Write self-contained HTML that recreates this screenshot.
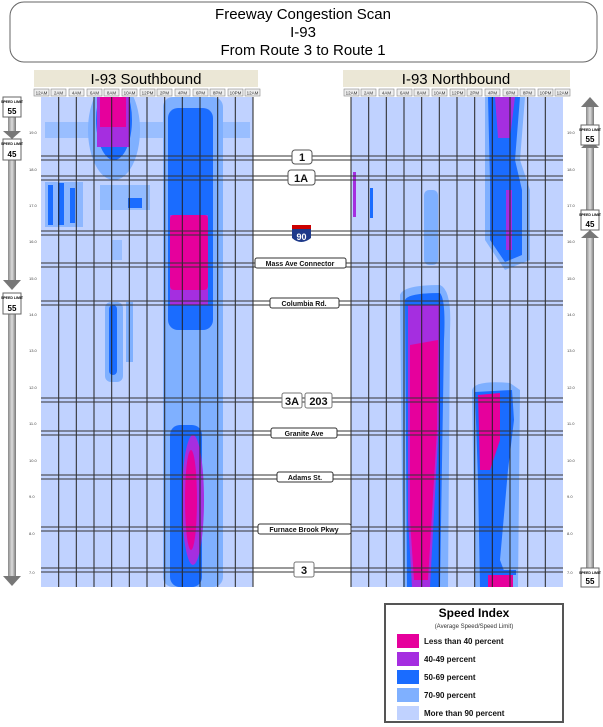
<!DOCTYPE html>
<html><head><meta charset="utf-8"><style>
body{margin:0;background:#fff;width:603px;height:727px;overflow:hidden}
svg{display:block;font-family:"Liberation Sans",sans-serif}
</style></head><body>
<svg width="603" height="727" viewBox="0 0 603 727">
<defs>
<linearGradient id="gv" x1="0" x2="1"><stop offset="0" stop-color="#888"/><stop offset="0.5" stop-color="#ddd"/><stop offset="1" stop-color="#777"/></linearGradient>
<clipPath id="cl"><rect x="41" y="97" width="212" height="490"/></clipPath>
<clipPath id="cr"><rect x="351" y="97" width="212" height="490"/></clipPath>
</defs>
<rect x="10" y="2" width="587" height="60" rx="14" fill="#fff" stroke="#666" stroke-width="1"/>
<text x="303" y="19" font-size="15" text-anchor="middle">Freeway Congestion Scan</text>
<text x="303" y="37" font-size="15" text-anchor="middle">I-93</text>
<text x="303" y="55" font-size="15" text-anchor="middle">From Route 3 to Route 1</text>

<rect x="34" y="70" width="224" height="17" fill="#ebe7d6"/>
<text x="146" y="84" font-size="15" text-anchor="middle">I-93 Southbound</text>
<rect x="343" y="70" width="227" height="17" fill="#ebe7d6"/>
<text x="456" y="84" font-size="15" text-anchor="middle">I-93 Northbound</text>

<g clip-path="url(#cl)">
<rect x="41" y="97" width="212" height="490" fill="#c0d2ff"/>
<rect x="45" y="122" width="205" height="16" fill="#7fb0ff" opacity="0.6"/>
<ellipse cx="114" cy="130" rx="26" ry="50" fill="#7fb0ff"/>
<ellipse cx="114" cy="120" rx="18" ry="40" fill="#1a6cff"/>
<rect x="97" y="97" width="33" height="50" fill="#a52ee0"/>
<rect x="100" y="97" width="26" height="30" fill="#e6009c"/>
<rect x="45" y="182" width="38" height="45" fill="#7fb0ff" opacity="0.8"/>
<rect x="48" y="185" width="5" height="40" fill="#1a6cff"/><rect x="58" y="183" width="6" height="42" fill="#1a6cff"/><rect x="70" y="188" width="5" height="35" fill="#1a6cff"/>
<rect x="100" y="185" width="50" height="25" fill="#7fb0ff" opacity="0.7"/>
<rect x="128" y="198" width="14" height="10" fill="#1a6cff"/>
<rect x="105" y="302" width="18" height="80" rx="6" fill="#7fb0ff"/>
<rect x="109" y="305" width="8" height="70" rx="4" fill="#1a6cff"/>
<rect x="126" y="302" width="7" height="60" fill="#7fb0ff"/>
<rect x="112" y="240" width="10" height="20" fill="#7fb0ff" opacity="0.6"/>
<rect x="163" y="97" width="60" height="490" rx="10" fill="#7fb0ff"/>
<rect x="168" y="108" width="45" height="222" rx="10" fill="#1a6cff"/>
<rect x="170" y="425" width="32" height="162" rx="10" fill="#1a6cff"/>
<rect x="170" y="215" width="38" height="90" fill="#a52ee0"/>
<rect x="170" y="215" width="38" height="75" rx="4" fill="#e6009c"/>
<ellipse cx="193" cy="500" rx="11" ry="65" fill="#a52ee0"/>
<ellipse cx="191" cy="500" rx="6" ry="50" fill="#e6009c"/>
</g>

<g clip-path="url(#cr)">
<rect x="351" y="97" width="212" height="490" fill="#c0d2ff"/>
<rect x="353" y="172" width="3" height="45" fill="#a52ee0"/>
<rect x="370" y="188" width="3" height="30" fill="#1a6cff"/>
<rect x="424" y="190" width="14" height="75" rx="5" fill="#7fb0ff"/>
<path d="M485 97 L525 97 L520 160 L530 190 L530 260 L505 270 L485 240 L485 180 Z" fill="#7fb0ff"/>
<path d="M488 97 L520 97 L515 160 L522 190 L522 255 L505 262 L490 240 L490 180 Z" fill="#1a6cff"/>
<path d="M495 97 L515 97 L510 138 L498 138 Z" fill="#a52ee0"/>
<rect x="506" y="190" width="6" height="60" fill="#a52ee0"/>
<path d="M400 295 Q403 285 440 285 Q452 290 450 330 L448 587 L403 587 Z" fill="#7fb0ff"/>
<path d="M405 300 Q408 293 440 293 Q446 300 444 340 L440 587 L407 587 Z" fill="#1a6cff"/>
<path d="M408 305 L440 305 L439 420 L430 587 L412 587 L408 520 Z" fill="#a52ee0"/>
<path d="M410 345 L438 340 L437 430 L428 580 L414 580 L410 520 Z" fill="#e6009c"/>
<path d="M472 390 Q475 380 510 383 L520 390 L518 587 L475 587 Z" fill="#7fb0ff"/>
<path d="M475 392 L512 390 L514 420 L508 470 L500 560 L510 587 L480 587 L478 480 Z" fill="#1a6cff"/>
<path d="M478 395 L500 393 L500 440 L490 470 L480 470 Z" fill="#e6009c"/>
<rect x="488" y="575" width="25" height="12" fill="#e6009c"/>
<rect x="484" y="570" width="32" height="5" fill="#1a6cff"/>
</g>

<g stroke="#222" stroke-width="1">
<line x1="58.7" y1="97" x2="58.7" y2="587"/><line x1="76.3" y1="97" x2="76.3" y2="587"/><line x1="94" y1="97" x2="94" y2="587"/><line x1="111.7" y1="97" x2="111.7" y2="587"/><line x1="129.3" y1="97" x2="129.3" y2="587"/><line x1="147" y1="97" x2="147" y2="587"/><line x1="164.7" y1="97" x2="164.7" y2="587"/><line x1="182.3" y1="97" x2="182.3" y2="587"/><line x1="200" y1="97" x2="200" y2="587"/><line x1="217.7" y1="97" x2="217.7" y2="587"/><line x1="235.3" y1="97" x2="235.3" y2="587"/><line x1="253" y1="97" x2="253" y2="587"/>
<line x1="351" y1="97" x2="351" y2="587"/><line x1="368.7" y1="97" x2="368.7" y2="587"/><line x1="386.3" y1="97" x2="386.3" y2="587"/><line x1="404" y1="97" x2="404" y2="587"/><line x1="421.7" y1="97" x2="421.7" y2="587"/><line x1="439.3" y1="97" x2="439.3" y2="587"/><line x1="457" y1="97" x2="457" y2="587"/><line x1="474.7" y1="97" x2="474.7" y2="587"/><line x1="492.3" y1="97" x2="492.3" y2="587"/><line x1="510" y1="97" x2="510" y2="587"/><line x1="527.7" y1="97" x2="527.7" y2="587"/><line x1="545.3" y1="97" x2="545.3" y2="587"/>
</g>
<g stroke="#333" stroke-width="1" fill="none">
<path d="M41 156H563M41 160H563M41 176H563M41 180H563M41 231H563M41 235H563M41 263H563M41 267H563M41 301H563M41 305H563M41 398H563M41 402H563M41 431H563M41 435H563M41 475H563M41 479H563M41 527H563M41 531H563M41 568H563M41 572H563"/>
</g>

<g font-size="4.5" text-anchor="middle" fill="#333">
<g stroke="#888" stroke-width="0.6" fill="#eee">
<rect x="34" y="89" width="15" height="7"/><rect x="51" y="89" width="15" height="7"/><rect x="69" y="89" width="15" height="7"/><rect x="87" y="89" width="15" height="7"/><rect x="104" y="89" width="15" height="7"/><rect x="122" y="89" width="15" height="7"/><rect x="140" y="89" width="15" height="7"/><rect x="157" y="89" width="15" height="7"/><rect x="175" y="89" width="15" height="7"/><rect x="193" y="89" width="15" height="7"/><rect x="210" y="89" width="15" height="7"/><rect x="228" y="89" width="15" height="7"/><rect x="245" y="89" width="15" height="7"/>
<rect x="344" y="89" width="15" height="7"/><rect x="361" y="89" width="15" height="7"/><rect x="379" y="89" width="15" height="7"/><rect x="397" y="89" width="15" height="7"/><rect x="414" y="89" width="15" height="7"/><rect x="432" y="89" width="15" height="7"/><rect x="450" y="89" width="15" height="7"/><rect x="467" y="89" width="15" height="7"/><rect x="485" y="89" width="15" height="7"/><rect x="503" y="89" width="15" height="7"/><rect x="520" y="89" width="15" height="7"/><rect x="538" y="89" width="15" height="7"/><rect x="555" y="89" width="15" height="7"/>
</g>
<text x="41.5" y="94.5">12AM</text><text x="58.5" y="94.5">2AM</text><text x="76.5" y="94.5">4AM</text><text x="94.5" y="94.5">6AM</text><text x="111.5" y="94.5">8AM</text><text x="129.5" y="94.5">10AM</text><text x="147.5" y="94.5">12PM</text><text x="164.5" y="94.5">2PM</text><text x="182.5" y="94.5">4PM</text><text x="200.5" y="94.5">6PM</text><text x="217.5" y="94.5">8PM</text><text x="235.5" y="94.5">10PM</text><text x="252.5" y="94.5">12AM</text>
<text x="351.5" y="94.5">12AM</text><text x="368.5" y="94.5">2AM</text><text x="386.5" y="94.5">4AM</text><text x="404.5" y="94.5">6AM</text><text x="421.5" y="94.5">8AM</text><text x="439.5" y="94.5">10AM</text><text x="457.5" y="94.5">12PM</text><text x="474.5" y="94.5">2PM</text><text x="492.5" y="94.5">4PM</text><text x="510.5" y="94.5">6PM</text><text x="527.5" y="94.5">8PM</text><text x="545.5" y="94.5">10PM</text><text x="562.5" y="94.5">12AM</text>
</g>

<g font-size="4" fill="#444">
<text x="29" y="134">19.0</text><text x="29" y="171">18.0</text><text x="29" y="207">17.0</text><text x="29" y="243">16.0</text><text x="29" y="280">15.0</text><text x="29" y="316">14.0</text><text x="29" y="352">13.0</text><text x="29" y="389">12.0</text><text x="29" y="425">11.0</text><text x="29" y="462">10.0</text><text x="29" y="498">9.0</text><text x="29" y="535">8.0</text><text x="29" y="574">7.0</text>
<text x="567" y="134">19.0</text><text x="567" y="171">18.0</text><text x="567" y="207">17.0</text><text x="567" y="243">16.0</text><text x="567" y="280">15.0</text><text x="567" y="316">14.0</text><text x="567" y="352">13.0</text><text x="567" y="389">12.0</text><text x="567" y="425">11.0</text><text x="567" y="462">10.0</text><text x="567" y="498">9.0</text><text x="567" y="535">8.0</text><text x="567" y="574">7.0</text>
</g>

<g font-weight="bold" text-anchor="middle" fill="#111">
<rect x="292" y="150" width="20" height="14" rx="3" fill="#fff" stroke="#555"/><text x="302" y="161" font-size="11">1</text>
<rect x="288" y="170" width="27" height="15" rx="3" fill="#fff" stroke="#555"/><text x="301" y="182" font-size="11">1A</text>
<path d="M292 225 L311 225 L311 238 Q301 246 292 238 Z" fill="#1e3a8a"/><rect x="292" y="225" width="19" height="4" fill="#c00"/><text x="301.5" y="240" font-size="9" fill="#fff">90</text>
<rect x="255" y="258" width="91" height="10" rx="2" fill="#fff" stroke="#333"/><text x="300" y="266" font-size="7">Mass Ave Connector</text>
<rect x="270" y="298" width="69" height="10" rx="2" fill="#fff" stroke="#333"/><text x="304" y="306" font-size="7">Columbia Rd.</text>
<rect x="282" y="393" width="20" height="15" rx="2" fill="#fff" stroke="#777"/><text x="292" y="405" font-size="11">3A</text>
<rect x="305" y="393" width="27" height="15" rx="2" fill="#fff" stroke="#777"/><text x="318.5" y="405" font-size="11">203</text>
<rect x="271" y="428" width="66" height="10" rx="2" fill="#fff" stroke="#333"/><text x="304" y="436" font-size="7">Granite Ave</text>
<rect x="277" y="472" width="56" height="10" rx="2" fill="#fff" stroke="#333"/><text x="305" y="480" font-size="7">Adams St.</text>
<rect x="258" y="524" width="93" height="10" rx="2" fill="#fff" stroke="#333"/><text x="304" y="532" font-size="7">Furnace Brook Pkwy</text>
<rect x="294" y="562" width="20" height="15" rx="2" fill="#fff" stroke="#777"/><text x="304" y="574" font-size="11">3</text>
</g>

<rect x="8" y="117" width="8" height="15" fill="url(#gv)"/>
<path d="M3 131 L21 131 L12 139 Z" fill="#777"/>
<rect x="8" y="160" width="8" height="120" fill="url(#gv)"/>
<path d="M3 280 L21 280 L12 290 Z" fill="#777"/>
<rect x="8" y="314" width="8" height="262" fill="url(#gv)"/>
<path d="M3 576 L21 576 L12 586 Z" fill="#777"/>
<path d="M581 107 L599 107 L590 97 Z" fill="#777"/>
<rect x="586" y="107" width="8" height="18" fill="url(#gv)"/>
<path d="M581 148 L599 148 L590 140 Z" fill="#777"/>
<rect x="586" y="148" width="8" height="62" fill="url(#gv)"/>
<path d="M581 238 L599 238 L590 230 Z" fill="#777"/>
<rect x="586" y="238" width="8" height="330" fill="url(#gv)"/>
<g text-anchor="middle" font-weight="bold">
<rect x="3" y="97" width="18" height="20" fill="#fff" stroke="#666"/><text x="12" y="103" font-size="3.5">SPEED LIMIT</text><text x="12" y="114" font-size="8">55</text>
<rect x="3" y="139" width="18" height="21" fill="#fff" stroke="#666"/><text x="12" y="145" font-size="3.5">SPEED LIMIT</text><text x="12" y="157" font-size="8">45</text>
<rect x="3" y="293" width="18" height="21" fill="#fff" stroke="#666"/><text x="12" y="299" font-size="3.5">SPEED LIMIT</text><text x="12" y="311" font-size="8">55</text>
<rect x="581" y="125" width="18" height="20" fill="#fff" stroke="#666"/><text x="590" y="131" font-size="3.5">SPEED LIMIT</text><text x="590" y="142" font-size="8">55</text>
<rect x="581" y="210" width="18" height="20" fill="#fff" stroke="#666"/><text x="590" y="216" font-size="3.5">SPEED LIMIT</text><text x="590" y="227" font-size="8">45</text>
<rect x="581" y="568" width="18" height="19" fill="#fff" stroke="#666"/><text x="590" y="574" font-size="3.5">SPEED LIMIT</text><text x="590" y="584" font-size="8">55</text>
</g>

<rect x="385" y="604" width="178" height="118" fill="#fff" stroke="#555" stroke-width="2"/>
<text x="474" y="617" font-size="12" font-weight="bold" text-anchor="middle">Speed Index</text>
<text x="474" y="628" font-size="6" text-anchor="middle" fill="#333">(Average Speed/Speed Limit)</text>
<rect x="397" y="634" width="22" height="14" fill="#e6009c"/>
<rect x="397" y="652" width="22" height="14" fill="#a52ee0"/>
<rect x="397" y="670" width="22" height="14" fill="#1a6cff"/>
<rect x="397" y="688" width="22" height="14" fill="#7fb0ff"/>
<rect x="397" y="706" width="22" height="14" fill="#c0d2ff"/>
<g font-size="8" font-weight="bold" fill="#111">
<text x="424" y="644">Less than 40 percent</text>
<text x="424" y="662">40-49 percent</text>
<text x="424" y="680">50-69 percent</text>
<text x="424" y="698">70-90 percent</text>
<text x="424" y="716">More than 90 percent</text>
</g>
</svg>
</body></html>
